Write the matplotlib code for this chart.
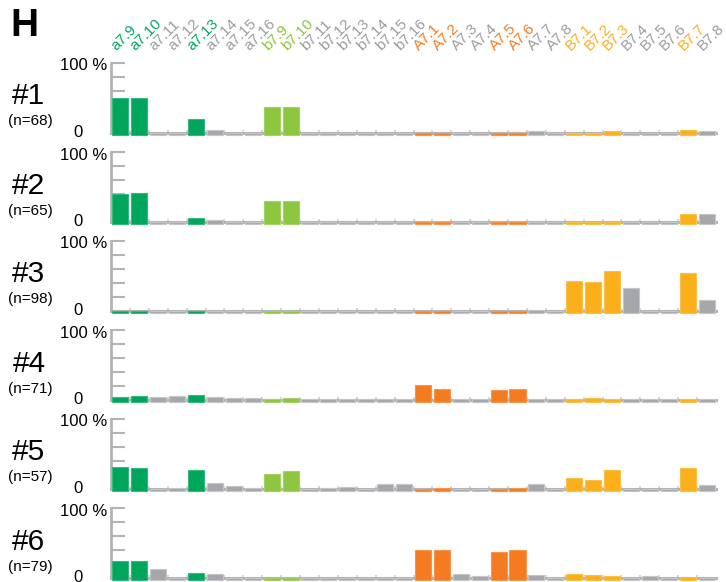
import matplotlib
matplotlib.use("Agg")
import matplotlib.pyplot as plt
import matplotlib.transforms as mtransforms
from matplotlib.colors import to_rgb

plt.rcParams["font.family"] = ["Liberation Sans", "DejaVu Sans"]

W, H = 726, 582

CATEGORIES = ["a7.9", "a7.10", "a7.11", "a7.12", "a7.13", "a7.14", "a7.15", "a7.16",
              "b7.9", "b7.10", "b7.11", "b7.12", "b7.13", "b7.14", "b7.15", "b7.16",
              "A7.1", "A7.2", "A7.3", "A7.4", "A7.5", "A7.6", "A7.7", "A7.8",
              "B7.1", "B7.2", "B7.3", "B7.4", "B7.5", "B7.6", "B7.7", "B7.8"]

# colour group of each category: g = a7 hit, lg = b7 hit, o = A7 hit, y = B7 hit, n = other
GROUPS = ["g", "g", "n", "n", "g", "n", "n", "n",
          "lg", "lg", "n", "n", "n", "n", "n", "n",
          "o", "o", "n", "n", "o", "o", "n", "n",
          "y", "y", "y", "n", "n", "n", "y", "n"]

CLUSTER_NAMES = ["#1", "#2", "#3", "#4", "#5", "#6"]
CLUSTER_N = [68, 65, 98, 71, 57, 79]

# percentage of cells per category, one list per cluster
PCT_1 = [50, 49, 0, 0, 19, 3, 0, 0, 37, 37, 0, 0, 0, 0, 0, 0,
         0, 0, 0, 0, 0, 0, 2, 0, 0, 0, 2, 0, 0, 0, 3, 1.5]
PCT_2 = [39, 41, 0, 0, 5, 1.5, 0, 0, 29, 29, 0, 0, 0, 0, 0, 0,
         0, 0, 0, 0, 0, 0, 0, 0, 0, 0, 0, 0, 0, 0, 11, 11]
PCT_3 = [0, 0, 0, 0, 0, 0, 0, 0, 0, 0, 0, 0, 0, 0, 0, 0,
         0, 0, 0, 0, 0, 0, 1, 0, 42, 41, 57, 32, 0, 0, 53, 15]
PCT_4 = [4, 4.5, 3.5, 5, 6, 3, 2, 2, 1, 1.5, 0.5, 0.5, 0, 0, 0, 0,
         20, 15, 1, 1, 13, 15, 1, 0, 0, 1.5, 0, 0, 0, 0, 0, 0]
PCT_5 = [31, 30, 0, 1, 27, 8, 3.5, 1, 21, 25, 0, 1, 2, 0, 6, 6,
         0, 1, 0, 0, 0, 1, 6, 0, 15, 12, 26, 0, 0, 0, 29, 5]
PCT_6 = [24, 24, 12, 0, 7, 5, 0, 0, 0, 0, 0, 0, 0, 0, 0, 0,
         39, 39, 5, 2, 36, 40, 3, 0, 5, 3, 2, 0, 1.5, 0, 1, 0]
PANELS = [PCT_1, PCT_2, PCT_3, PCT_4, PCT_5, PCT_6]

FACE = {"g": "#00a65c", "lg": "#8dc63f", "o": "#f47b21", "y": "#fbb01b", "n": "#a6a7aa"}
TEXT = {"g": "#00a65c", "lg": "#8dc63f", "o": "#f47b21", "y": "#fbb01b", "n": "#9c9c9f"}
AXIS_GREY = "#b4b4b8"


def lighten(c, amt):
    r, g, b = to_rgb(c)
    return (r + (1 - r) * amt, g + (1 - g) * amt, b + (1 - b) * amt)


fig = plt.figure(figsize=(W / 100, H / 100), dpi=100)
fig.text(10 / W, 1 - 26 / H, "H", fontsize=28, fontweight="bold", va="center", ha="left")

x = list(range(len(CATEGORIES)))
left_px, right_px = 111, 716
pad = 3.8  # bars start just under the baseline so empty categories still show their colour

for k, vals in enumerate(PANELS):
    base_y = 132.5 + 89 * k
    ax = fig.add_axes([left_px / W, 1 - base_y / H, (right_px - left_px) / W, 70 / H])
    ax.set_xlim(-0.5, len(CATEGORIES) - 0.5)
    ax.set_ylim(0, 100)

    faces = [FACE[g] for g in GROUPS]
    edges = [lighten(FACE[g], 0.35 if g == "n" else 0.2) for g in GROUPS]
    ax.bar(x, [v + pad for v in vals], bottom=-pad, width=0.85, color=faces,
           edgecolor=edges, linewidth=0.8, clip_on=False, zorder=3)

    for side in ["top", "right"]:
        ax.spines[side].set_visible(False)
    ax.spines["left"].set_color(AXIS_GREY)
    ax.spines["left"].set_linewidth(2.0)
    ax.spines["left"].set_bounds(0, 100)
    ax.spines["bottom"].set_color(AXIS_GREY)
    ax.spines["bottom"].set_linewidth(2.2)
    ax.spines["bottom"].set_zorder(2)

    ax.set_yticks([0, 20, 40, 60, 80, 100])
    ax.tick_params(axis="y", direction="in", length=10, width=1.5, color=AXIS_GREY,
                   labelleft=False)
    ax.set_xticks([])
    ax.set_xticks([i + 0.5 for i in x[:-1]], minor=True)
    ax.tick_params(axis="x", which="minor", direction="in", length=2, width=1.2,
                   color="#cfd0d2")

    ax.text(-4 / (right_px - left_px), 66.5 / 70, "100 %", transform=ax.transAxes,
            ha="right", va="center", fontsize=12)
    ax.text(-33 / (right_px - left_px), 0, "0", transform=ax.transAxes,
            ha="center", va="center", fontsize=12)

    fig.text(29 / W, 1 - (base_y - 36) / H, CLUSTER_NAMES[k], fontsize=21.5,
             ha="center", va="center")
    fig.text(30 / W, 1 - (base_y - 11) / H, f"(n={CLUSTER_N[k]})", fontsize=11,
             ha="center", va="center")

    if k == 0:
        trans = mtransforms.blended_transform_factory(ax.transData, ax.transAxes)
        for i, (lab, g) in enumerate(zip(CATEGORIES, GROUPS)):
            ax.text(i - 0.2, 1.17, lab, transform=trans, rotation=45,
                    rotation_mode="anchor", ha="left", va="baseline",
                    fontsize=11, color=TEXT[g], clip_on=False)

fig.savefig("out.png", dpi=100)
